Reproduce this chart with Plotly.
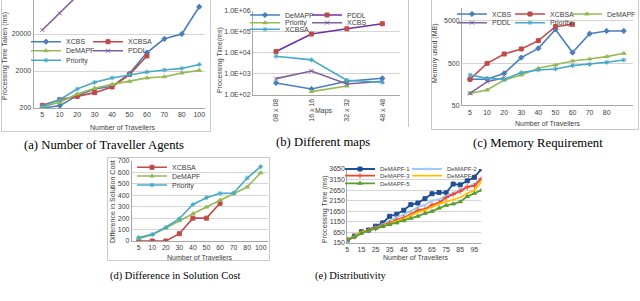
import plotly.graph_objects as go

W, H = 640, 301
def px(p): return p / W
def py(p): return 1 - p / H

SANS = "Liberation Sans, Arial, sans-serif"
SERIF = "Liberation Serif, Times New Roman, serif"

# ---------------- data ----------------
# (a) Number of Traveller Agents (processing time, ms, log scale)
cats_a = ["5", "10", "20", "30", "40", "50", "60", "70", "80", "100"]
a_xcbs = [200, 231, 431, 652, 770, 1700, 6300, 14800, 20000, 109000]
a_xcbsa = [236, 336, 412, 520, 740, 1600, 5100]
a_demapf = [213, 284, 478, 680, 870, 1050, 1300, 1400, 1770, 2080]
a_pddl = [25700, 72500, 215000]
a_priority = [221, 336, 652, 989, 1300, 1600, 1880, 2130, 2350, 3000]
a_yticks = [200, 2000, 20000]

# (b) Different maps
cats_b = ["08 x 08", "16 x 16", "32 x 32", "48 x 48"]
b_demapf = [373, 193, 447, 620]
b_pddl = [11500, 78000, 138000, 240000]
b_priority = [None, 144, 268, None]
b_xcbs = [600, 1380, 334, 447]
b_xcbsa = [6900, 4650, 500, 400]
b_yticks = [1e2, 1e3, 1e4, 1e5, 1e6]
b_yticklabels = ["1.0E+02", "1.0E+03", "1.0E+04", "1.0E+05", "1.0E+06"]

# (c) Memory Requirement (MB, log scale)
cats_c = ["5", "10", "20", "30", "40", "50", "60", "70", "80", "100"]
c_ticklabels = ["5", "10", "20", "30", "40", "50", "60", "70", "80", ""]
c_xcbs = [207, 207, 287, 676, 1120, 3150, 890, 2500, 2900, 2900]
c_xcbsa = [207, 495, 824, 1085, 1710, 3670, 4170]
c_demapf = [96, 115, 199, 262, 377, 452, 562, 628, 713, 855]
c_pddl = [96, 182, 226]
c_priority = [262, 218, 207, 298, 344, 364, 436, 469, 524, 594]
c_yticks = [50, 500, 5000]

# (d) Difference in Solution Cost
cats_d = ["5", "10", "20", "30", "40", "50", "60", "70", "80", "100"]
d_xcbsa = [0, 0, 0, 64, 200, 200, 330]
d_demapf = [20, 55, 114, 178, 239, 297, 358, 414, 472, 598]
d_priority = [30, 58, 120, 195, 320, 379, 417, 420, 551, 650]
d_yticks = [0, 100, 200, 300, 400, 500, 600, 700]

# (e) Distributivity
e_x = [5, 10, 15, 20, 25, 30, 35, 40, 45, 50, 55, 60, 65, 70, 75, 80, 85, 90, 95, 100]
e_xticks = [5, 15, 25, 35, 45, 55, 65, 75, 85, 95]
e_yticks = [150, 650, 1150, 1650, 2150, 2650, 3150, 3650]
e_d1 = [290, 478, 680, 760, 947, 1100, 1415, 1510, 1700, 1965, 2040, 2245, 2480, 2540, 2525, 2940, 2900, 3090, 3260, 3650]
e_d2 = [270, 420, 620, 740, 880, 1020, 1200, 1380, 1480, 1650, 1850, 1950, 2150, 2200, 2380, 2500, 2680, 2800, 2950, 3200]
e_d3 = [300, 450, 650, 750, 850, 980, 1100, 1250, 1350, 1500, 1700, 1750, 1950, 2050, 2300, 2450, 2600, 2800, 2850, 3200]
e_d4 = [320, 480, 680, 760, 830, 950, 1050, 1180, 1300, 1450, 1600, 1700, 1850, 2000, 2100, 2200, 2300, 2500, 2650, 3050]
e_d5 = [300, 450, 620, 750, 830, 930, 1020, 1100, 1200, 1320, 1420, 1550, 1650, 1800, 1930, 2000, 2100, 2350, 2500, 2650]

BLUE, RED, GREEN, PURPLE, CYAN = "#4A7EBB", "#BE4B48", "#98B954", "#7D60A0", "#46AAC5"

fig = go.Figure()
legends = {}
count = [0]


def series(ax, x, y, name, color, symbol, tx, ty, mcolor=None, msize=4, lw=1.6, lfont=7):
    count[0] += 1
    lid = "legend" if count[0] == 1 else f"legend{count[0]}"
    mc = mcolor or color
    fig.add_trace(go.Scatter(
        x=x, y=y, name=name, mode="lines+markers",
        xaxis="x" if ax == 1 else f"x{ax}", yaxis="y" if ax == 1 else f"y{ax}",
        line=dict(color=color, width=lw),
        marker=dict(symbol=symbol, size=msize, color=mc, line=dict(color=mc, width=1)),
        legend=lid, hoverinfo="skip"))
    legends[lid] = dict(x=px(tx - 40), xanchor="left", y=py(ty), yanchor="middle",
                        bgcolor="rgba(0,0,0,0)", borderwidth=0,
                        font=dict(size=lfont, color="#404040", family=SANS))


# (a)
series(1, cats_a[:len(a_xcbs)], a_xcbs, "XCBS", BLUE, "diamond", 66, 41.7)
series(1, cats_a[:len(a_xcbsa)], a_xcbsa, "XCBSA", RED, "square", 128, 41.7)
series(1, cats_a[:len(a_demapf)], a_demapf, "DeMAPF", GREEN, "triangle-up", 66, 50.7)
series(1, cats_a[:len(a_pddl)], a_pddl, "PDDL", PURPLE, "x-thin", 128, 50.7)
series(1, cats_a[:len(a_priority)], a_priority, "Priority", CYAN, "asterisk", 66, 60.3)

# (b)
series(2, cats_b, b_demapf, "DeMAPF", BLUE, "diamond", 285, 15)
series(2, cats_b, b_pddl, "PDDL", "#7030A0", "square", 347, 15, mcolor=RED)
series(2, cats_b, b_priority, "Priority", GREEN, "triangle-up", 285, 22.7)
series(2, cats_b, b_xcbs, "XCBS", PURPLE, "x-thin", 347, 22.7)
series(2, cats_b, b_xcbsa, "XCBSA", CYAN, "asterisk", 285, 29.3)

# (c)
series(3, cats_c[:len(c_xcbs)], c_xcbs, "XCBS", BLUE, "diamond", 492, 14)
series(3, cats_c[:len(c_xcbsa)], c_xcbsa, "XCBSA", RED, "square", 550, 14)
series(3, cats_c[:len(c_demapf)], c_demapf, "DeMAPF", GREEN, "triangle-up", 607, 14)
series(3, cats_c[:len(c_pddl)], c_pddl, "PDDL", PURPLE, "x-thin", 492, 22.7)
series(3, cats_c[:len(c_priority)], c_priority, "Priority", CYAN, "asterisk", 550, 22.7)

# (d)
series(4, cats_d[:len(d_xcbsa)], d_xcbsa, "XCBSA", RED, "square", 172, 167.3)
series(4, cats_d[:len(d_demapf)], d_demapf, "DeMAPF", GREEN, "triangle-up", 172, 176)
series(4, cats_d[:len(d_priority)], d_priority, "Priority", CYAN, "asterisk", 172, 185)

# (e)
series(5, e_x, e_d1, "DeMAPF-1", "#1F4E96", "square", 380, 169, msize=4, lw=1.8, lfont=6)
series(5, e_x, e_d2, "DeMAPF-2", "#9DCBF3", "x-thin", 447, 169, msize=3, lw=1.8, lfont=6)
series(5, e_x, e_d3, "DeMAPF-3", "#F4452C", "cross-thin", 380, 175.7, msize=4, lw=1.8, lfont=6)
series(5, e_x, e_d4, "DeMAPF-4", "#FFC000", "line-ew", 447, 175.7, msize=2, lw=1.8, lfont=6)
series(5, e_x, e_d5, "DeMAPF-5", "#5A9E35", "triangle-up", 380, 183.3, msize=4, lw=1.8, lfont=6)

tickfont = dict(size=7, color="#404040", family=SANS)
GRID = "#d4d4d4"
LINE = "#a6a6a6"


def xax(l, r, rng, anchor, **kw):
    d = dict(domain=[px(l), px(r)], range=rng, anchor=anchor, showgrid=False,
             showline=True, linecolor=LINE, linewidth=1, tickfont=tickfont,
             zeroline=False, ticks="", automargin=False)
    d.update(kw)
    return d


def yax(t, b, rng, anchor, **kw):
    d = dict(domain=[py(b), py(t)], range=rng, anchor=anchor, showgrid=True,
             gridcolor=GRID, gridwidth=1, showline=True, linecolor=LINE, linewidth=1,
             tickfont=tickfont, zeroline=False, ticks="", automargin=False)
    d.update(kw)
    return d


layout = dict(
    width=W, height=H, margin=dict(l=0, r=0, t=0, b=0, autoexpand=False),
    paper_bgcolor="white", plot_bgcolor="white", showlegend=True,
    xaxis=xax(33.6, 205, [-0.5, 9.33], "y", type="category"),
    yaxis=yax(0, 108, [2.301, 5.22], "x", type="log", tickvals=a_yticks,
              ticktext=[str(v) for v in a_yticks]),
    xaxis2=xax(253, 400, [-0.65, 3.5], "y2", type="category", tickangle=-90),
    yaxis2=yax(10.7, 95, [2, 6], "x2", type="log", tickvals=b_yticks, ticktext=b_yticklabels),
    xaxis3=xax(462, 633, [-0.47, 9.54], "y3", type="category",
               tickmode="array", tickvals=cats_c, ticktext=c_ticklabels),
    yaxis3=yax(8, 105.3, [1.699, 4.007], "x3", type="log", tickvals=c_yticks,
               ticktext=[str(v) for v in c_yticks]),
    xaxis4=xax(131.9, 267.5, [-0.5, 9.5], "y4", type="category"),
    yaxis4=yax(161, 241, [0, 700], "x4", tickvals=d_yticks),
    xaxis5=xax(347.3, 481.4, [5, 100], "y5", tickvals=e_xticks),
    yaxis5=yax(169, 243, [150, 3650], "x5", tickvals=e_yticks),
)
layout.update(legends)


def ann(text, x, y, size=7, angle=0, font=SANS, color="#404040", yanchor="middle"):
    return dict(text=text, x=px(x), y=py(y), xref="paper", yref="paper", showarrow=False,
                xanchor="center", yanchor=yanchor, textangle=angle,
                font=dict(size=size, family=font, color=color))


annotations = [
    ann("Number of Travellers", 122, 127),
    ann("Processing Time Taken (ms)", 5, 56, angle=-90),
    ann("Maps", 324, 111),
    ann("Processing Time(ms)", 220, 60, angle=-90),
    ann("Number of Travellers", 547, 123.3),
    ann("Memory used (MB)", 435, 53, angle=-90),
    ann("Number of Travellers", 199, 257.3),
    ann("Difference in Solution Cost", 112, 202, angle=-90),
    ann("Number of Travellers", 415, 257.3),
    ann("Processing Time (ms)", 325, 209, angle=-90),
    ann("(a) Number of Traveller Agents", 104, 145, size=12.7, font=SERIF, color="black"),
    ann("(b) Different maps", 323, 141.7, size=12.7, font=SERIF, color="black"),
    ann("(c) Memory Requirement", 538, 143, size=12.7, font=SERIF, color="black"),
    ann("(d) Difference in Solution Cost", 175, 276, size=10.5, font=SERIF, color="black"),
    ann("(e) Distributivity", 351, 276, size=10.5, font=SERIF, color="black"),
    ann("Figure 4: Evaluation of the performance of DeMAPF with other algorithms", 255, 297.5,
        size=10.5, font=SERIF, color="black", yanchor="top"),
]
layout["annotations"] = annotations

FRAME = "#c8c8c8"


def rect(x0, y0, x1, y1):
    return dict(type="rect", xref="paper", yref="paper", x0=px(x0), x1=px(x1),
                y0=py(y1), y1=py(y0), line=dict(color=FRAME, width=1), fillcolor="rgba(0,0,0,0)",
                layer="below")


def vline(x, y0, y1):
    return dict(type="line", xref="paper", yref="paper", x0=px(x), x1=px(x),
                y0=py(y1), y1=py(y0), line=dict(color=FRAME, width=1), layer="below")


layout["shapes"] = [
    rect(1.5, -3, 210.5, 131.5),
    vline(408.5, 0, 127),
    rect(431.5, -3, 638.5, 129.5),
    rect(107.5, 157.5, 269.5, 260.5),
]

fig.update_layout(**layout)
fig.write_html("out.html", config={"displayModeBar": False},
               post_script="document.body.style.margin='0';document.body.style.overflow='hidden';")
